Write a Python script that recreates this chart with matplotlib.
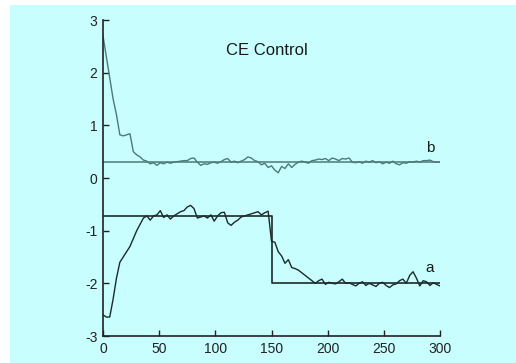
import numpy as np
import matplotlib.pyplot as plt
from matplotlib.patches import Rectangle

plt.rcParams['font.family'] = ['Liberation Sans', 'DejaVu Sans']
plt.rcParams['axes.unicode_minus'] = False

# sampled every 3 time units
t = list(range(0, 301, 3))

curve_b = [2.70, 2.30, 1.90, 1.50, 1.20, 0.82, 0.80, 0.82, 0.84, 0.50,
           0.44, 0.40, 0.34, 0.32, 0.27, 0.29, 0.24, 0.29, 0.27, 0.30,
           0.28, 0.30, 0.31, 0.32, 0.33, 0.33, 0.37, 0.38, 0.30, 0.24,
           0.27, 0.26, 0.29, 0.30, 0.28, 0.31, 0.35, 0.37, 0.30, 0.32,
           0.29, 0.32, 0.35, 0.40, 0.38, 0.33, 0.31, 0.25, 0.28, 0.20,
           0.23, 0.15, 0.10, 0.22, 0.18, 0.27, 0.20, 0.26, 0.30, 0.32,
           0.30, 0.28, 0.33, 0.34, 0.36, 0.35, 0.37, 0.33, 0.38, 0.36,
           0.33, 0.37, 0.36, 0.38, 0.30, 0.29, 0.31, 0.28, 0.32, 0.30,
           0.33, 0.29, 0.31, 0.27, 0.30, 0.28, 0.32, 0.27, 0.25, 0.29,
           0.28, 0.31, 0.30, 0.32, 0.30, 0.33, 0.33, 0.34, 0.31, 0.30,
           0.30]

curve_a = [-2.60, -2.64, -2.64, -2.30, -1.90, -1.60, -1.50, -1.40, -1.30, -1.15,
           -1.00, -0.88, -0.76, -0.72, -0.80, -0.72, -0.70, -0.62, -0.75, -0.70,
           -0.78, -0.72, -0.68, -0.64, -0.62, -0.55, -0.52, -0.58, -0.76, -0.74,
           -0.72, -0.76, -0.70, -0.82, -0.72, -0.66, -0.65, -0.85, -0.90, -0.84,
           -0.80, -0.74, -0.72, -0.70, -0.68, -0.66, -0.64, -0.70, -0.66, -0.63,
           -1.20, -1.22, -1.40, -1.48, -1.62, -1.55, -1.70, -1.72, -1.75, -1.80,
           -1.85, -1.90, -1.95, -2.00, -1.95, -1.92, -2.02, -1.98, -2.00, -2.01,
           -1.97, -1.92, -2.00, -1.99, -2.02, -2.05, -2.00, -1.97, -2.04, -2.00,
           -2.03, -2.06, -2.00, -1.98, -2.04, -2.08, -2.03, -2.01, -1.95, -1.92,
           -2.00, -1.85, -1.78, -1.90, -2.05, -1.95, -1.97, -2.04, -1.99, -2.02,
           -2.05]

# set points (reference levels)
ref_b_t = [0, 300]
ref_b = [0.30, 0.30]
ref_a_t = [0, 150, 150, 300]
ref_a = [-0.72, -0.72, -2.00, -2.00]

bg = '#c8fefe'
col_b = '#4d7a78'
col_a = '#1c2a2a'

fig = plt.figure(figsize=(5.16, 3.63), dpi=100)
fig.patch.set_facecolor('white')
fig.patches.append(Rectangle((10/516, 0), 1, 358/363, transform=fig.transFigure,
                             facecolor=bg, edgecolor='none', zorder=-10))

ax = fig.add_axes([103/516, 27/363, 337/516, 316/363])
ax.set_facecolor('none')
ax.set_zorder(5)

ax.plot(ref_b_t, ref_b, color=col_b, linewidth=1.1)
ax.plot(t, curve_b, color=col_b, linewidth=1.0)
ax.plot(ref_a_t, ref_a, color=col_a, linewidth=1.2)
ax.plot(t, curve_a, color=col_a, linewidth=1.0)

ax.text(146, 2.43, 'CE Control', ha='center', va='center', fontsize=12, color='#1a1a1a')
ax.text(291, -1.7, 'a', ha='center', va='center', fontsize=11, color='#1a1a1a')
ax.text(291, 0.57, 'b', ha='center', va='center', fontsize=11, color='#1a1a1a')

ax.set_xlim(0, 300)
ax.set_ylim(-3, 3)
ax.set_xticks([0, 50, 100, 150, 200, 250, 300])
ax.set_yticks([-3, -2, -1, 0, 1, 2, 3])
for s in ['top', 'right']:
    ax.spines[s].set_visible(False)
for s in ['left', 'bottom']:
    ax.spines[s].set_color('#222')
    ax.spines[s].set_linewidth(1.2)
ax.tick_params(direction='in', length=4, width=1.0, colors='#222', labelsize=10, pad=4)

plt.savefig('out.png', dpi=100, facecolor=fig.get_facecolor())
